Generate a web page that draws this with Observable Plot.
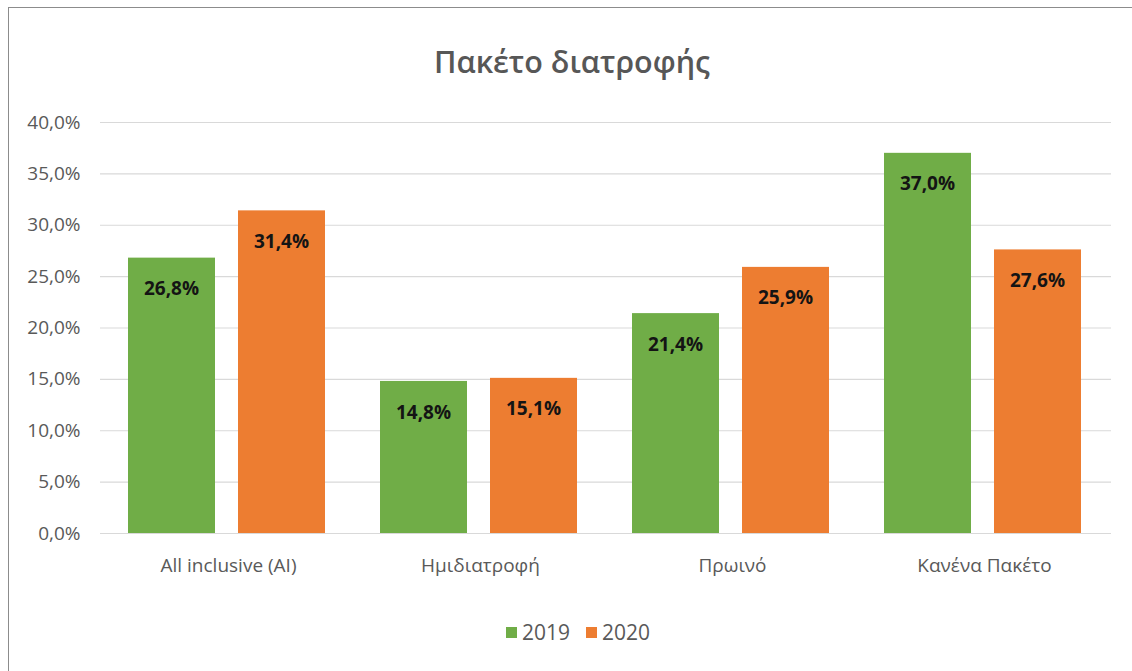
<!DOCTYPE html>
<html>
<head>
<meta charset="utf-8">
<script src="https://cdn.jsdelivr.net/npm/d3@7"></script>
<script src="https://cdn.jsdelivr.net/npm/@observablehq/plot@0.6"></script>
<style>
  body { margin: 0; background: #fff; font-family: "Open Sans", sans-serif; }
  #frame { position: absolute; left: 8px; top: 7px; width: 1130px; height: 670px;
           border-left: 1.5px solid #8c8c8c; border-top: 1.5px solid #8c8c8c; }
  #title { position: absolute; left: 6px; top: 40px; width: 1132px; text-align: center;
           font-size: 30.5px; font-weight: 600; color: #575757; }
  #chart { position: absolute; left: 0; top: 100px; }
  #legend { position: absolute; left: 12px; top: 618px; width: 1132px; display: flex;
            justify-content: center; gap: 16px; font-size: 21px; color: #595959; }
  #legend span { display: inline-flex; align-items: center; gap: 5px; }
  #legend i { display: inline-block; width: 11px; height: 11px; }
</style>
</head>
<body>
<div id="frame"></div>
<div id="title">Πακέτο διατροφής</div>
<div id="chart"></div>
<div id="legend"></div>
<script>
// Meal-plan shares by year
const categories = ["All inclusive (AI)", "Ημιδιατροφή", "Πρωινό", "Κανένα Πακέτο"];
const years = ["2019", "2020"];
const values2019 = [26.8, 14.8, 21.4, 37.0];
const values2020 = [31.4, 15.1, 25.9, 27.6];
const yTicks = [0, 5, 10, 15, 20, 25, 30, 35, 40];
const colors = ["#70ad47", "#ed7d31"];

const fmt = d => d.toFixed(1).replace(".", ",") + "%";

const rows2019 = categories.map((c, i) => ({category: c, year: years[0], value: values2019[i]}));
const rows2020 = categories.map((c, i) => ({category: c, year: years[1], value: values2020[i]}));

const labelStyle = {fontSize: 19, fontWeight: "bold", fill: "#141414", dy: 31};

const chart = Plot.plot({
  width: 1132,
  height: 500,
  marginLeft: 100,
  marginRight: 21,
  marginTop: 22,
  marginBottom: 67,
  style: {fontFamily: "'Open Sans', sans-serif", fontSize: "19px", color: "#595959", background: "transparent"},
  x: {type: "band", domain: categories, padding: 0},
  y: {domain: [0, 40]},
  color: {domain: years, range: colors},
  marks: [
    Plot.ruleY(yTicks, {stroke: "#d9d9d9", strokeWidth: 1.2}),
    // each category band holds the 2019 bar on the left and the 2020 bar on the right
    Plot.barY(rows2019, {x: "category", y: "value", fill: "year", insetLeft: 26, insetRight: 139}),
    Plot.barY(rows2020, {x: "category", y: "value", fill: "year", insetLeft: 136, insetRight: 29}),
    Plot.text(rows2019, {x: "category", y: "value", text: d => fmt(d.value), dx: -57, ...labelStyle}),
    Plot.text(rows2020, {x: "category", y: "value", text: d => fmt(d.value), dx: 53, ...labelStyle}),
    Plot.axisY({ticks: yTicks, tickFormat: fmt, tickSize: 0, tickPadding: 20, label: null}),
    Plot.axisX({tickSize: 0, tickPadding: 25, label: null})
  ]
});
document.getElementById("chart").append(chart);

const legend = document.getElementById("legend");
years.forEach((y, i) => {
  const item = document.createElement("span");
  const sw = document.createElement("i");
  sw.style.background = colors[i];
  item.append(sw, document.createTextNode(y));
  legend.append(item);
});
</script>
</body>
</html>
